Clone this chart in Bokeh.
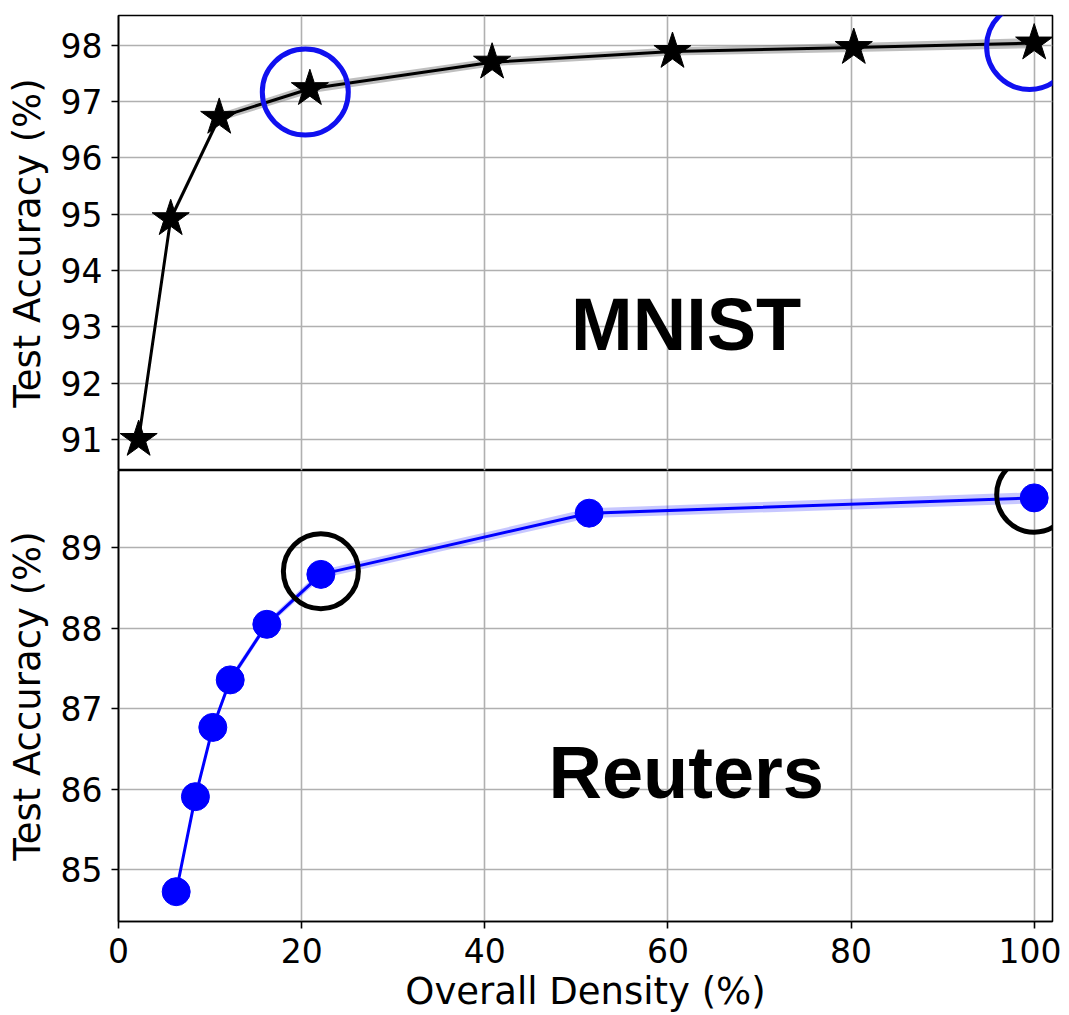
from bokeh.plotting import figure
from bokeh.layouts import column
from bokeh.models import Range1d, FixedTicker, ColumnDataSource
from bokeh.embed import file_html
from bokeh.resources import INLINE
from bokeh.core.properties import value

# ---- data ----
mnist_density = [2.2, 5.7, 11.0, 20.9, 40.8, 60.5, 80.3, 100.0]
mnist_acc = [91.00, 94.92, 96.72, 97.23, 97.70, 97.89, 97.96, 98.04]
mnist_std = [0.05, 0.07, 0.07, 0.08, 0.07, 0.07, 0.08, 0.09]
mnist_highlight = [3, 7]

reuters_density = [6.3, 8.4, 10.3, 12.2, 16.2, 22.1, 51.4, 100.0]
reuters_acc = [84.73, 85.91, 86.77, 87.36, 88.05, 88.67, 89.43, 89.62]
reuters_std = [0.04, 0.04, 0.04, 0.05, 0.04, 0.05, 0.06, 0.07]
reuters_highlight = [5, 7]

x_ticks = [0, 20, 40, 60, 80, 100]
mnist_ticks = [91, 92, 93, 94, 95, 96, 97, 98]
reuters_ticks = [85, 86, 87, 88, 89]

FONT = "DejaVu Sans"
W = 1061
x_range = Range1d(0, 102)


def style(p, yticks):
    p.outline_line_color = "black"
    p.outline_line_width = 1.6
    p.xgrid.ticker = FixedTicker(ticks=x_ticks)
    p.ygrid.ticker = FixedTicker(ticks=yticks)
    for g in (p.xgrid, p.ygrid):
        g.grid_line_color = "#b0b0b0"
        g.grid_line_width = 1.6
    for ax in (p.xaxis, p.yaxis):
        ax.axis_line_color = "black"
        ax.axis_line_width = 1.6
        ax.major_tick_line_color = "black"
        ax.major_tick_line_width = 1.6
        ax.major_tick_out = 7
        ax.major_tick_in = 0
        ax.minor_tick_line_color = None
        ax.major_label_text_font = FONT
        ax.major_label_text_font_size = "33px"
        ax.major_label_text_color = "black"
        ax.major_label_standoff = 9
        ax.axis_label_text_font = FONT
        ax.axis_label_text_font_size = "37px"
        ax.axis_label_text_font_style = "normal"
        ax.axis_label_text_color = "black"
    p.xaxis.ticker = FixedTicker(ticks=x_ticks)
    p.yaxis.ticker = FixedTicker(ticks=yticks)
    p.yaxis.axis_label = "Test Accuracy (%)"
    p.yaxis.axis_label_standoff = 9


# ---- top: MNIST ----
p1 = figure(width=W, height=470, x_range=x_range, y_range=Range1d(90.45, 98.53),
            output_backend="svg", toolbar_location=None,
            min_border_left=118, min_border_right=9, min_border_top=15, min_border_bottom=0)
style(p1, mnist_ticks)
p1.xaxis.visible = False

src1 = ColumnDataSource(dict(
    x=mnist_density, y=mnist_acc,
    lo=[a - s for a, s in zip(mnist_acc, mnist_std)],
    hi=[a + s for a, s in zip(mnist_acc, mnist_std)]))
p1.varea(x="x", y1="lo", y2="hi", source=src1, fill_color="gray", fill_alpha=0.5)
p1.line(x="x", y="y", source=src1, line_color="black", line_width=3)
p1.scatter(x="x", y="y", source=src1, marker="star", size=39,
           fill_color="black", line_color="black")
p1.scatter(x=[mnist_density[i] - 0.5 for i in mnist_highlight],
           y=[mnist_acc[i] - 0.06 for i in mnist_highlight],
           marker="circle", size=86, fill_color=None, line_color="#1010f0", line_width=5)
p1.text(x=[62], y=[93.05], text=["MNIST"], text_font=value("Liberation Sans"),
        text_font_style="bold", text_font_size="74px", text_align="center",
        text_baseline="alphabetic", text_color="black")

# ---- bottom: Reuters ----
p2 = figure(width=W, height=545, x_range=x_range, y_range=Range1d(84.36, 89.96),
            output_backend="svg", toolbar_location=None,
            min_border_left=118, min_border_right=9, min_border_top=0, min_border_bottom=90)
style(p2, reuters_ticks)
p2.xaxis.axis_label = "Overall Density (%)"
p2.xaxis.axis_label_standoff = 4

src2 = ColumnDataSource(dict(
    x=reuters_density, y=reuters_acc,
    lo=[a - s for a, s in zip(reuters_acc, reuters_std)],
    hi=[a + s for a, s in zip(reuters_acc, reuters_std)]))
p2.varea(x="x", y1="lo", y2="hi", source=src2, fill_color="blue", fill_alpha=0.22)
p2.line(x="x", y="y", source=src2, line_color="blue", line_width=3)
p2.scatter(x="x", y="y", source=src2, marker="circle", size=28,
           fill_color="blue", line_color="blue")
p2.scatter(x=[reuters_density[i] for i in reuters_highlight],
           y=[reuters_acc[i] + 0.04 for i in reuters_highlight],
           marker="circle", size=75, fill_color=None, line_color="black", line_width=5)
p2.text(x=[62], y=[86.21], text=["Reuters"], text_font=value("Liberation Sans"),
        text_font_style="bold", text_font_size="74px", text_align="center",
        text_baseline="alphabetic", text_color="black")

layout = column(p1, p2, spacing=0)
open("out.html", "w").write(file_html(layout, INLINE))
